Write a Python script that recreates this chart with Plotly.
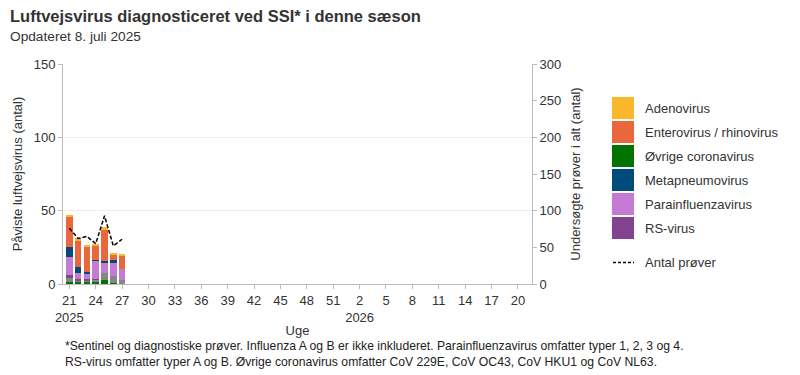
import plotly.graph_objects as go

# ---- data ----
weeks_2025 = list(range(21, 53))
weeks_2026 = list(range(1, 21))
week_labels = [str(w) for w in weeks_2025] + [str(w) for w in weeks_2026]
data_weeks = ["21", "22", "23", "24", "25", "26", "27"]

series_names = ["Øvrige coronavirus", "Andet", "RS-virus", "Parainfluenzavirus",
                "Metapneumovirus", "Enterovirus / rhinovirus", "Adenovirus"]
green_cov = [1.1, 1.1, 1.1, 1.4, 3.0, 0.9, 0.0]
grey_other = [3.2, 1.4, 1.4, 1.4, 4.8, 4.6, 3.0]
rs_virus = [1.8, 0.7, 0.9, 0.9, 0.0, 0.0, 0.0]
parainfluenza = [12.3, 4.6, 3.9, 12.1, 6.2, 8.9, 7.3]
metapneumo = [6.8, 3.9, 0.9, 0.9, 1.8, 2.1, 0.0]
entero_rhino = [20.8, 17.4, 16.7, 9.4, 20.8, 3.9, 8.9]
adeno = [1.1, 2.3, 1.8, 0.7, 2.1, 0.7, 1.4]
antal_proever = [76, 62, 65, 55, 93, 52, 61]

colors = ["#007300", "#878787", "#82438F", "#C57BD3", "#004B7A", "#E9673D", "#FBB72C"]

legend_names = ["Adenovirus", "Enterovirus / rhinovirus", "Øvrige coronavirus",
                "Metapneumovirus", "Parainfluenzavirus", "RS-virus"]
legend_colors = ["#FBB72C", "#E9673D", "#007300", "#004B7A", "#C57BD3", "#82438F"]

tick_idx = list(range(0, 52, 3))
tick_text = []
for i in tick_idx:
    t = week_labels[i]
    if i == 0:
        t += "<br>2025"
    elif i == 33:
        t += "<br>2026"
    tick_text.append(t)

# ---- geometry helpers ----
W, H = 800, 375
L, R, T, B = 63, 268, 64, 91
PW, PH = W - L - R, H - T - B


def px(x):
    return (x - L) / PW


def py(y):
    return (H - B - y) / PH


FONT = "Liberation Sans, Arial, sans-serif"

fig = go.Figure()
xpos = [week_labels.index(w) for w in data_weeks]
all_series = [green_cov, grey_other, rs_virus, parainfluenza, metapneumo, entero_rhino, adeno]
for name, vals, col in zip(series_names, all_series, colors):
    fig.add_trace(go.Bar(x=xpos, y=vals, name=name, marker=dict(color=col, line=dict(width=0)),
                         showlegend=False, width=0.76))

fig.add_trace(go.Scatter(x=xpos, y=antal_proever, name="Antal prøver", yaxis="y2",
                         mode="lines", line=dict(color="black", width=1.5, dash="4px,2px"),
                         showlegend=False))

fig.update_layout(
    width=W, height=H, barmode="stack", bargap=0,
    margin=dict(l=L, r=R, t=T, b=B, autoexpand=False),
    paper_bgcolor="white", plot_bgcolor="white",
    font=dict(family=FONT, size=12, color="#333333"),
    xaxis=dict(range=[-0.72, 52.6], tickvals=tick_idx, ticktext=tick_text, automargin=False,
               showline=True, linecolor="#bbbbbb", linewidth=1, ticks="outside",
               ticklen=4, tickcolor="#bbbbbb", showgrid=False, zeroline=False,
               tickfont=dict(size=13, color="#333333"),
               title=dict(text="Uge", font=dict(size=13, color="#333333"), standoff=2)),
    yaxis=dict(range=[0, 150], tickvals=[0, 50, 100, 150], showline=True, linecolor="#bbbbbb",
               automargin=False,
               ticks="outside", ticklen=4, tickcolor="#bbbbbb", showgrid=True,
               gridcolor="#ececec", zeroline=False, tickfont=dict(size=13, color="#333333"),
               title=dict(text="Påviste luftvejsvirus (antal)", font=dict(size=13, color="#333333"),
                          standoff=8)),
    yaxis2=dict(range=[0, 300], tickvals=[0, 50, 100, 150, 200, 250, 300], overlaying="y",
                side="right", showline=True, linecolor="#bbbbbb", ticks="outside", ticklen=4,
                automargin=False,
                tickcolor="#bbbbbb", showgrid=False, zeroline=False,
                tickfont=dict(size=13, color="#333333"),
                title=dict(text="Undersøgte prøver i alt (antal)",
                           font=dict(size=13, color="#333333"), standoff=10)),
)

annotations = [
    dict(text="<b>Luftvejsvirus diagnosticeret ved SSI* i denne sæson</b>", x=px(8), y=py(16),
         xanchor="left", yanchor="middle", font=dict(size=16.5, color="#333333")),
    dict(text="Opdateret 8. juli 2025", x=px(8), y=py(36), xanchor="left", yanchor="middle",
         font=dict(size=13.7, color="#333333")),
    dict(text="*Sentinel og diagnostiske prøver. Influenza A og B er ikke inkluderet. "
              "Parainfluenzavirus omfatter typer 1, 2, 3 og 4.<br>"
              "RS-virus omfatter typer A og B. Øvrige coronavirus omfatter CoV 229E, CoV OC43, "
              "CoV HKU1 og CoV NL63.",
         x=px(63), y=py(354), xanchor="left", yanchor="middle", align="left",
         font=dict(size=12.2, color="#222222")),
]
shapes = []
for i, (nm, col) in enumerate(zip(legend_names, legend_colors)):
    top = 97 + 24 * i
    shapes.append(dict(type="rect", xref="paper", yref="paper", x0=px(612), x1=px(634),
                       y0=py(top + 22), y1=py(top), fillcolor=col, line=dict(width=0)))
    annotations.append(dict(text=nm, x=px(643), y=py(top + 11), xanchor="left", yanchor="middle",
                            font=dict(size=13, color="#333333")))
shapes.append(dict(type="line", xref="paper", yref="paper", x0=px(613), x1=px(634),
                   y0=py(262.5), y1=py(262.5), line=dict(color="black", width=1.5, dash="3px,2px")))
annotations.append(dict(text="Antal prøver", x=px(643), y=py(262.5), xanchor="left",
                        yanchor="middle", font=dict(size=13, color="#333333")))

for a in annotations:
    a.update(xref="paper", yref="paper", showarrow=False)
fig.update_layout(annotations=annotations, shapes=shapes)

fig.write_html("out.html", config={"displayModeBar": False})

# remove default page margin so the figure sits at the window origin
with open("out.html", "r", encoding="utf-8") as f:
    html = f.read()
html = html.replace("<head>", "<head><style>html,body{margin:0;padding:0;overflow:hidden}</style>", 1)
with open("out.html", "w", encoding="utf-8") as f:
    f.write(html)
